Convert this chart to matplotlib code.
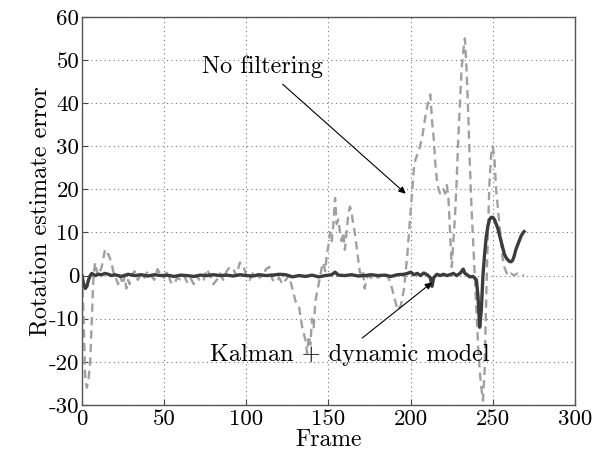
import matplotlib
matplotlib.use("Agg")
import matplotlib.pyplot as plt

plt.rcParams["font.family"] = ["cmr10", "DejaVu Serif"]
plt.rcParams["axes.formatter.use_mathtext"] = True

# ============================
# DATA
# ============================
raw_frames = [0, 1, 2, 3, 4, 5, 6, 7, 8, 9, 10, 11, 12, 13, 14, 15, 16, 17, 18, 19,
              20, 21, 22, 23, 24, 25, 26, 27, 28, 29, 30, 32, 34, 36, 38, 40, 42, 44,
              46, 48, 50, 52, 54, 56, 58, 60, 62, 64, 66, 68, 70, 72, 74, 76, 78, 80,
              82, 84, 86, 88, 90, 92, 94, 96, 98, 100, 102, 104, 106, 108, 110, 112,
              114, 116, 118, 120, 122, 124, 126, 128, 130, 132, 134, 136, 137, 138,
              139, 140, 141, 142, 143, 144, 145, 146, 147, 148, 149, 150, 151, 152,
              153, 154, 155, 156, 157, 158, 159, 160, 161, 162, 163, 164, 165, 166,
              167, 168, 169, 170, 171, 172, 173, 174, 176, 178, 180, 182, 184, 186,
              188, 190, 192, 194, 196, 198, 200, 201, 202, 203, 205, 207, 209, 211,
              212, 213, 214, 215, 216, 217, 218, 219, 220, 221, 222, 223, 224, 225,
              226, 227, 228, 229, 230, 231, 232, 233, 234, 235, 236, 237, 238, 239,
              240, 241, 242, 243, 244, 245, 246, 247, 248, 249, 250, 251, 252, 253,
              254, 255, 256, 257, 258, 259, 261, 263, 265, 267, 269]
raw_error = [0, -10, -24, -26, -24, -20, -10, 0, 3, 1, 0, 1, 2, 4, 6, 5, 5, 4, 3, 1,
             0, -1, -2, 0, -1, -2, 0, -3, -1, -2, 0, 1, -1, 0.5, -0.5, 1, 0, -1,
             1.5, 0, -0.5, 1, -1.5, -2, -0.5, -1, 0, -1.5, -0.5, -2, 0, -1.5, -1, 1.5, 0, -2,
             -1, 0.5, -1, 1, 2, 1.5, 0, 3, 2.5, 0, -1, 0.5, 1, -0.5, 0, 1.5,
             2, -1, -1.5, -0.5, -2, -1, 0, -3, -6, -7, -12, -15, -18, -14,
             -16, -10, -12, -6, -4, -2, 0, 2, 3, 1, 5, 7, 10, 8,
             12, 18, 12, 13, 10, 8, 10, 6, 10, 14, 16, 15, 12, 10,
             7, 4, 1, 0, 1, -3, -1, 0, -0.5, 0.5, -0.5, 0, 0.5, 0,
             -2, -5, -8, -7, -3, 5, 15, 20, 25, 27, 29, 32, 37, 41,
             42, 36, 32, 26, 22, 20, 19, 19, 20, 19, 21, 18, 10, 2,
             8, 14, 22, 32, 40, 48, 52, 55, 48, 38, 26, 16, 8, 0,
             -8, -16, -22, -26, -29, -22, -5, 10, 22, 28, 30, 27, 20, 16,
             12, 8, 4, 2, 1, 0, 0.5, 0, 0.5, 0, 0]

kalman_frames = [0, 1, 2, 3, 4, 5, 6, 8, 10, 12, 14, 16, 18, 20, 24, 28, 32, 36, 40,
                 44, 48, 52, 56, 60, 64, 68, 72, 76, 80, 84, 88, 92, 96, 100, 104,
                 108, 112, 116, 120, 124, 128, 132, 136, 140, 144, 148, 152, 154, 156,
                 160, 164, 168, 172, 176, 180, 184, 188, 192, 196, 198, 200, 202, 204,
                 206, 208, 210, 212, 213, 214, 216, 218, 220, 222, 224, 226, 228, 230,
                 232, 233, 234, 236, 238, 240, 241, 242, 243, 244, 245, 246, 247, 248,
                 249, 250, 251, 252, 253, 254, 255, 256, 257, 258, 259, 260, 261, 262,
                 263, 264, 265, 266, 267, 268, 269]
kalman_error = [0, -2, -3, -2.5, -1, 0, 0.5, 0, 0.3, 0.2, 0.5, 0.3, 0, 0.2, -0.2, 0.3, 0, 0.2, -0.1,
                0.2, 0, 0.1, -0.2, 0.1, 0, -0.2, 0.1, 0, 0.2, 0, 0.1, -0.1, 0.2, 0, -0.1,
                0.2, 0, 0.1, 0.3, 0.2, -0.3, 0, -0.2, 0.1, -0.3, 0, 0.2, 0.8, 0.1,
                0, 0.2, -0.1, 0, 0.2, 0, 0.1, -0.2, 0.2, 0.3, 0.5, 0.8, 0.2, 0.5,
                0, 0.6, 0.2, -0.5, -2.5, -0.5, 0.3, 0, 0.3, 0, 0.2, 0.5, 0, 0.5,
                1.5, 0.5, 0.3, -0.3, -0.2, -1, -5, -12, -8, 0, 5, 9, 11.5, 13,
                13.5, 13.5, 13, 12, 11, 9.5, 8, 6.5, 5, 4.2, 3.7, 3.3, 3.2, 3.5,
                4.5, 6, 7, 8, 9, 9.7, 10.2]

x_ticks = [0, 50, 100, 150, 200, 250, 300]
y_ticks = [-30, -20, -10, 0, 10, 20, 30, 40, 50, 60]

# ============================
# PLOT
# ============================
fig = plt.figure(figsize=(5.94, 4.57), dpi=100)
ax = fig.add_axes([0.138, 0.114, 0.830, 0.849])

ax.plot(raw_frames, raw_error, color="#a0a0a0", linestyle=(0, (3.5, 2.2)), linewidth=1.7)
ax.plot(kalman_frames, kalman_error, color="#3c3c3c", linewidth=2.4)

ax.set_xlim(0, 300)
ax.set_ylim(-30, 60)
ax.set_xticks(x_ticks)
ax.set_xticklabels([str(t) for t in x_ticks])
ax.set_yticks(y_ticks)
ax.set_yticklabels([str(t) for t in y_ticks])
ax.tick_params(direction="in", labelsize=16.5, length=4, color="#444444", pad=3)
ax.tick_params(axis="y", pad=2)
ax.grid(True, linestyle=(0, (1, 3)), color="#777777", linewidth=0.8)
for s in ax.spines.values():
    s.set_color("#555555")
    s.set_linewidth(1.0)

ax.set_xlabel("Frame", fontsize=17, labelpad=0)
ax.set_ylabel("Rotation estimate error", fontsize=17.5, labelpad=-2)

ax.annotate("No filtering", xy=(197, 19), xytext=(110, 48.5), fontsize=17.5,
            ha="center", va="center",
            arrowprops=dict(arrowstyle="-|>", color="black", lw=0.8,
                            shrinkA=4, shrinkB=0, mutation_scale=10))
ax.annotate("Kalman + dynamic model", xy=(213, -1.6), xytext=(163, -18.3), fontsize=17.5,
            ha="center", va="center",
            arrowprops=dict(arrowstyle="-|>", color="black", lw=0.8,
                            shrinkA=3, shrinkB=0, mutation_scale=10,
                            relpos=(0.52, 1.0)))

fig.savefig("out.png", dpi=100)
